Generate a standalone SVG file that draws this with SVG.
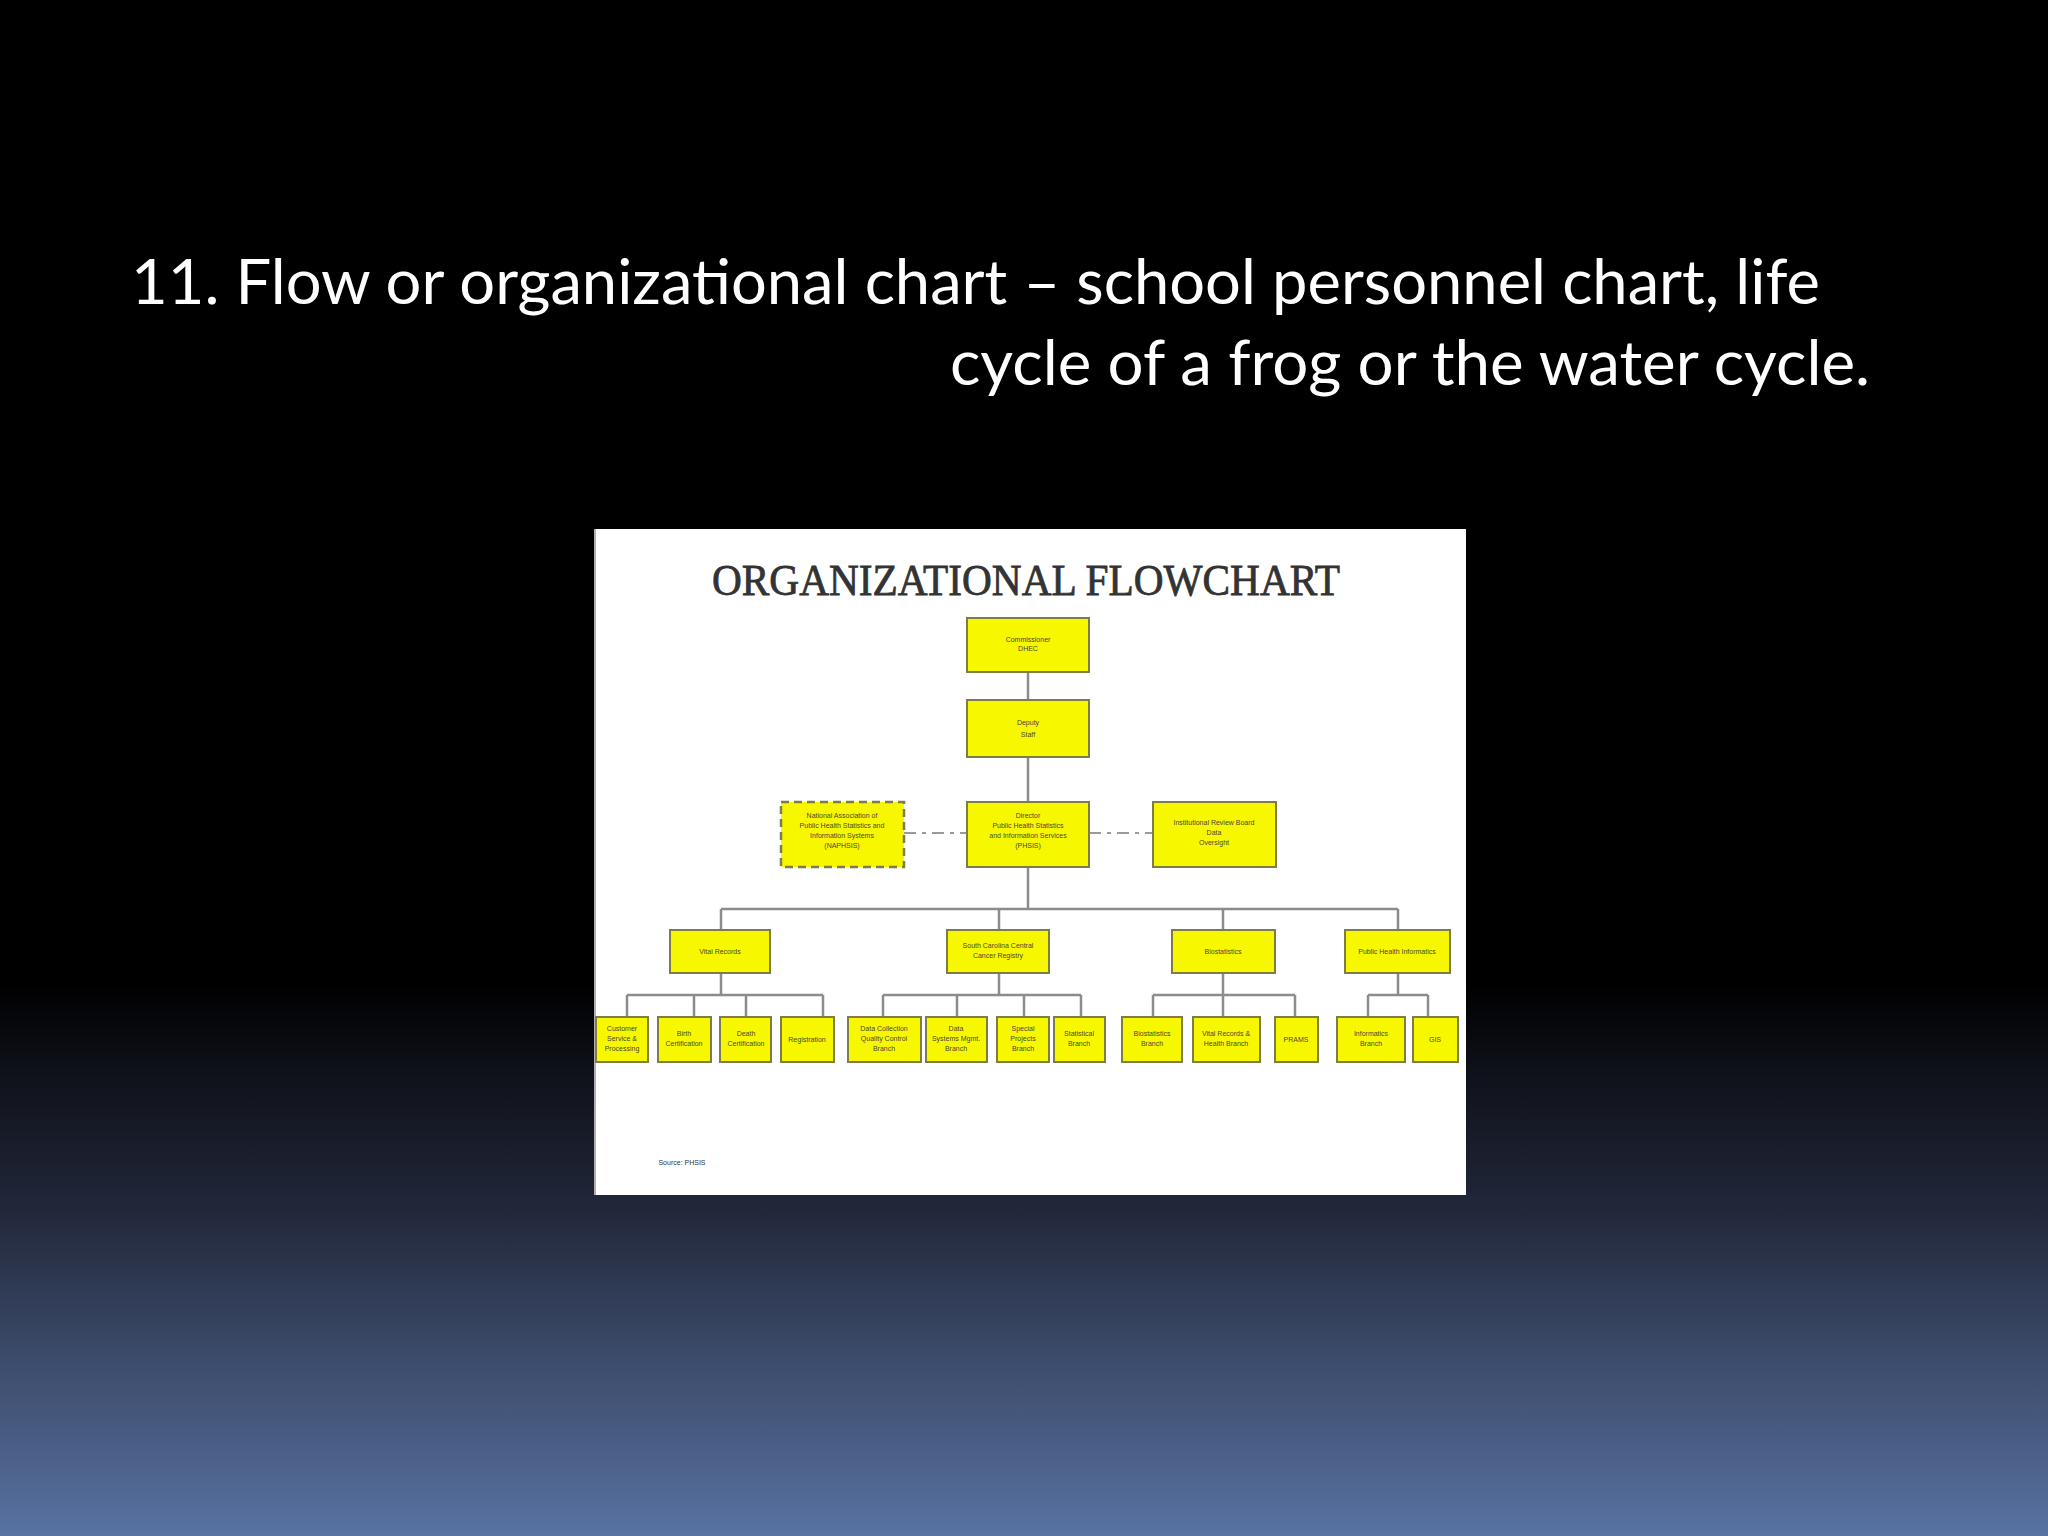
<svg xmlns="http://www.w3.org/2000/svg" width="2048" height="1536" viewBox="0 0 2048 1536">
<defs>
<linearGradient id="bg" x1="0" y1="0" x2="0" y2="1536" gradientUnits="userSpaceOnUse">
<stop offset="0" stop-color="#000000"/>
<stop offset="0.64" stop-color="#000000"/>
<stop offset="0.70" stop-color="#0f121a"/>
<stop offset="0.79" stop-color="#22283b"/>
<stop offset="0.88" stop-color="#3b4a68"/>
<stop offset="1" stop-color="#5872a2"/>
</linearGradient>
<style>
.box{fill:#f7f700;stroke:#7d7d45;stroke-width:2}
.dbox{fill:#f7f700;stroke:#7d7d45;stroke-width:2.5;stroke-dasharray:8 5}
.ln{stroke:#8c8c8c;stroke-width:2.5;fill:none}
.dl{stroke:#9a9a9a;stroke-width:2;fill:none;stroke-dasharray:12 6 4 6}
.t{font-family:"Liberation Sans",Arial,sans-serif;font-size:7px;fill:#4a4a30;text-anchor:middle}
.hd{font-family:Lato,"Open Sans",sans-serif;font-size:62px;fill:#ffffff}
</style>
</defs>
<rect width="2048" height="1536" fill="url(#bg)"/>
<text class="hd" x="131" y="304" textLength="1689" lengthAdjust="spacingAndGlyphs">11. Flow or organizational chart – school personnel chart, life</text>
<text class="hd" x="1870" y="385" text-anchor="end" textLength="920" lengthAdjust="spacingAndGlyphs">cycle of a frog or the water cycle.</text>

<rect x="594" y="529" width="872" height="666" fill="#ffffff"/>
<line x1="595" y1="529" x2="595" y2="1195" stroke="#b0b0b0" stroke-width="2"/>
<text x="1026" y="595" font-family="Liberation Serif,Times New Roman,serif" font-size="45" fill="#333333" stroke="#333333" stroke-width="0.8" text-anchor="middle" textLength="628" lengthAdjust="spacingAndGlyphs">ORGANIZATIONAL FLOWCHART</text>

<g id="connectors">
<path class="ln" d="M1028 672V700M1028 757V802M1028 867V909M721 909H1398M721 909V930M999 909V930M1223 909V930M1398 909V930"/>
<path class="ln" d="M721 973V995M627 995H823M627 995V1017M694 995V1017M746 995V1017M823 995V1017"/>
<path class="ln" d="M999 973V995M883 995H1081M883 995V1017M957 995V1017M1024 995V1017M1081 995V1017"/>
<path class="ln" d="M1223 973V995M1153 995H1295M1153 995V1017M1223 995V1017M1295 995V1017"/>
<path class="ln" d="M1398 973V995M1368 995H1428M1368 995V1017M1428 995V1017"/>
<path class="dl" d="M904 833H967M1089 833H1153"/>
</g>

<g id="n-commissioner"><rect class="box" x="967" y="618" width="122" height="54"/><text class="t" x="1028" y="642">Commissioner</text><text class="t" x="1028" y="651">DHEC</text></g>
<g id="n-deputy"><rect class="box" x="967" y="700" width="122" height="57"/><text class="t" x="1028" y="725">Deputy</text><text class="t" x="1028" y="737">Staff</text></g>
<g id="n-director"><rect class="box" x="967" y="802" width="122" height="65"/><text class="t" x="1028" y="818">Director</text><text class="t" x="1028" y="828">Public Health Statistics</text><text class="t" x="1028" y="838">and Information Services</text><text class="t" x="1028" y="848">(PHSIS)</text></g>
<g id="n-naphsis"><rect class="dbox" x="781" y="802" width="123" height="65"/><text class="t" x="842" y="818">National Association of</text><text class="t" x="842" y="828">Public Health Statistics and</text><text class="t" x="842" y="838">Information Systems</text><text class="t" x="842" y="848">(NAPHSIS)</text></g>
<g id="n-irb"><rect class="box" x="1153" y="802" width="123" height="65"/><text class="t" x="1214" y="825">Institutional Review Board</text><text class="t" x="1214" y="835">Data</text><text class="t" x="1214" y="845">Oversight</text></g>

<g id="n-vital"><rect class="box" x="670" y="930" width="100" height="43"/><text class="t" x="720" y="954">Vital Records</text></g>
<g id="n-cancer"><rect class="box" x="947" y="930" width="102" height="43"/><text class="t" x="998" y="948">South Carolina Central</text><text class="t" x="998" y="958">Cancer Registry</text></g>
<g id="n-bio"><rect class="box" x="1172" y="930" width="103" height="43"/><text class="t" x="1223" y="954">Biostatistics</text></g>
<g id="n-phi"><rect class="box" x="1345" y="930" width="105" height="43"/><text class="t" x="1397" y="954">Public Health Informatics</text></g>

<g id="n-a"><rect class="box" x="596" y="1017" width="52" height="45"/><text class="t" x="622" y="1031">Customer</text><text class="t" x="622" y="1041">Service &amp;</text><text class="t" x="622" y="1051">Processing</text></g>
<g id="n-b"><rect class="box" x="658" y="1017" width="53" height="45"/><text class="t" x="684" y="1036">Birth</text><text class="t" x="684" y="1046">Certification</text></g>
<g id="n-c"><rect class="box" x="720" y="1017" width="51" height="45"/><text class="t" x="746" y="1036">Death</text><text class="t" x="746" y="1046">Certification</text></g>
<g id="n-d"><rect class="box" x="781" y="1017" width="53" height="45"/><text class="t" x="807" y="1042">Registration</text></g>
<g id="n-e"><rect class="box" x="848" y="1017" width="73" height="45"/><text class="t" x="884" y="1031">Data Collection</text><text class="t" x="884" y="1041">Quality Control</text><text class="t" x="884" y="1051">Branch</text></g>
<g id="n-f"><rect class="box" x="926" y="1017" width="61" height="45"/><text class="t" x="956" y="1031">Data</text><text class="t" x="956" y="1041">Systems Mgmt.</text><text class="t" x="956" y="1051">Branch</text></g>
<g id="n-g"><rect class="box" x="997" y="1017" width="52" height="45"/><text class="t" x="1023" y="1031">Special</text><text class="t" x="1023" y="1041">Projects</text><text class="t" x="1023" y="1051">Branch</text></g>
<g id="n-h"><rect class="box" x="1054" y="1017" width="51" height="45"/><text class="t" x="1079" y="1036">Statistical</text><text class="t" x="1079" y="1046">Branch</text></g>
<g id="n-i"><rect class="box" x="1122" y="1017" width="60" height="45"/><text class="t" x="1152" y="1036">Biostatistics</text><text class="t" x="1152" y="1046">Branch</text></g>
<g id="n-j"><rect class="box" x="1193" y="1017" width="67" height="45"/><text class="t" x="1226" y="1036">Vital Records &amp;</text><text class="t" x="1226" y="1046">Health Branch</text></g>
<g id="n-k"><rect class="box" x="1275" y="1017" width="43" height="45"/><text class="t" x="1296" y="1042">PRAMS</text></g>
<g id="n-l"><rect class="box" x="1337" y="1017" width="68" height="45"/><text class="t" x="1371" y="1036">Informatics</text><text class="t" x="1371" y="1046">Branch</text></g>
<g id="n-m"><rect class="box" x="1413" y="1017" width="45" height="45"/><text class="t" x="1435" y="1042">GIS</text></g>

<text x="682" y="1165" font-family="Liberation Sans,Arial,sans-serif" font-size="7" fill="#333" text-anchor="middle">Source: PHSIS</text>
</svg>
